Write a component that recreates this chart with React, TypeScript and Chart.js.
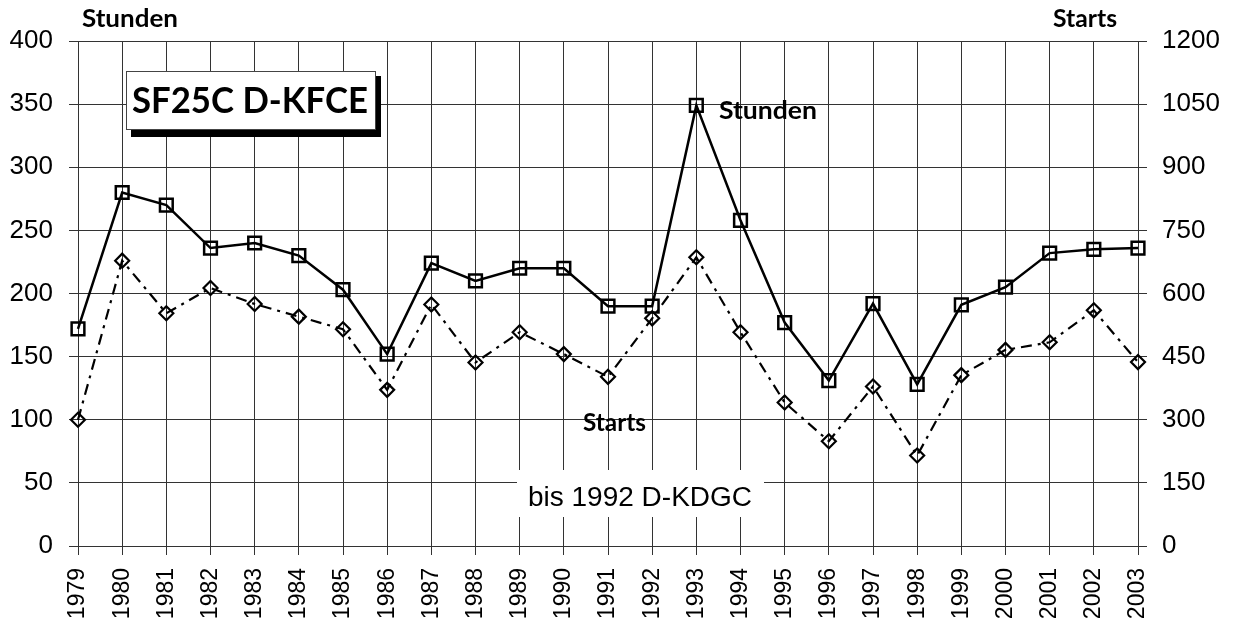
import React, { useEffect, useRef } from 'react';
import { Chart, registerables } from 'chart.js';

Chart.register(...registerables);

const years = ['1979','1980','1981','1982','1983','1984','1985','1986','1987','1988','1989','1990','1991','1992','1993','1994','1995','1996','1997','1998','1999','2000','2001','2002','2003'];
const stunden = [172, 280, 270, 236, 240, 230, 203, 152, 224, 210, 220, 220, 190, 190, 349, 258, 177, 131, 192, 128, 191, 205, 232, 235, 236];
const starts = [300, 678, 553, 613, 575, 545, 515, 371, 574, 436, 508, 456, 402, 541, 686, 508, 341, 249, 379, 215, 406, 466, 484, 560, 437];

const leftTitle = 'Stunden';
const rightTitle = 'Starts';
const chartTitle = 'SF25C D-KFCE';
const note = 'bis 1992 D-KDGC';

const W = 1242;
const H = 625;
const SANS = '"Liberation Sans", Arial, sans-serif';
const BOLD = 'Lato, "Open Sans", sans-serif';

function fitText(ctx: CanvasRenderingContext2D, text: string, x: number, baseline: number, width: number, font: string) {
  ctx.save();
  ctx.font = font;
  ctx.textAlign = 'left';
  ctx.textBaseline = 'alphabetic';
  const m = ctx.measureText(text).width;
  ctx.translate(x, baseline);
  ctx.scale(width / m, 1);
  ctx.fillStyle = '#000';
  ctx.fillText(text, 0, 0);
  ctx.restore();
}

const annotations = {
  id: 'annotations',
  beforeDatasetsDraw(chart: any) {
    const ctx: CanvasRenderingContext2D = chart.ctx;
    ctx.save();
    // note box covering the grid
    ctx.fillStyle = '#fff';
    ctx.fillRect(517, 470, 247, 47);
    fitText(ctx, note, 528, 506, 224, `27px ${SANS}`);
    // title box with shadow
    ctx.fillStyle = '#000';
    ctx.fillRect(131, 76, 250, 61);
    ctx.fillStyle = '#fff';
    ctx.fillRect(126, 71, 250, 59);
    ctx.strokeStyle = '#444';
    ctx.lineWidth = 1;
    ctx.strokeRect(126.5, 71.5, 249, 58);
    fitText(ctx, chartTitle, 132, 113, 236, `bold 36px ${BOLD}`);
    ctx.restore();
  },
  afterDraw(chart: any) {
    const ctx: CanvasRenderingContext2D = chart.ctx;
    fitText(ctx, leftTitle, 82, 27, 96, `bold 24px ${BOLD}`);
    fitText(ctx, rightTitle, 1053, 27, 64, `bold 24px ${BOLD}`);
    fitText(ctx, leftTitle, 719, 119, 98, `bold 24px ${BOLD}`);
    fitText(ctx, rightTitle, 583, 431, 63, `bold 24px ${BOLD}`);
  },
};

export default function App() {
  const ref = useRef<HTMLCanvasElement>(null);

  useEffect(() => {
    document.body.style.margin = '0';
    const canvas = ref.current;
    if (!canvas) return;
    const chart = new Chart(canvas, {
      type: 'line',
      data: {
        labels: years,
        datasets: [
          {
            label: 'Starts',
            data: starts,
            yAxisID: 'y1',
            borderColor: '#000',
            borderWidth: 2.2,
            borderDash: [11, 6, 3, 6],
            pointStyle: 'rectRot',
            pointRadius: 7,
            pointBorderWidth: 2.2,
            pointBorderColor: '#000',
            pointBackgroundColor: 'rgba(0,0,0,0)',
            tension: 0,
            fill: false,
            clip: false as any,
          },
          {
            label: 'Stunden',
            data: stunden,
            yAxisID: 'y',
            borderColor: '#000',
            borderWidth: 2.5,
            pointStyle: 'rect',
            pointRadius: 9,
            pointBorderWidth: 2.5,
            pointBorderColor: '#000',
            pointBackgroundColor: 'rgba(0,0,0,0)',
            tension: 0,
            fill: false,
            clip: false as any,
          },
        ],
      },
      options: {
        responsive: false,
        animation: false,
        devicePixelRatio: 1,
        layout: { padding: { top: 41, left: 0, right: 0, bottom: 0 } },
        plugins: { legend: { display: false }, tooltip: { enabled: false } },
        scales: {
          x: {
            type: 'category',
            offset: false,
            grid: { color: '#333', lineWidth: 1, tickLength: 9, drawTicks: true },
            border: { display: false },
            ticks: {
              autoSkip: false,
              maxRotation: 90,
              minRotation: 90,
              padding: 13,
              color: '#000',
              font: { family: SANS, size: 23 },
            },
            afterFit: (s: any) => { s.height = H - 546; },
          },
          y: {
            position: 'left',
            min: 0,
            max: 400,
            ticks: { stepSize: 50, padding: 16, color: '#000', font: { family: SANS, size: 26 }, callback: (v: any) => String(v) },
            grid: { color: '#333', lineWidth: 1, tickLength: 9 },
            border: { display: false },
            afterFit: (s: any) => { s.width = 78; },
          },
          y1: {
            position: 'right',
            min: 0,
            max: 1200,
            ticks: { stepSize: 150, padding: 15, color: '#000', font: { family: SANS, size: 26 }, callback: (v: any) => String(v) },
            grid: { drawOnChartArea: false, color: '#333', lineWidth: 1, tickLength: 9 },
            border: { display: false },
            afterFit: (s: any) => { s.width = W - 1138; },
          },
        },
      } as any,
      plugins: [annotations],
    });
    return () => chart.destroy();
  }, []);

  return (
    <div style={{ width: W, height: H, background: '#fff' }}>
      <canvas ref={ref} width={W} height={H} style={{ display: 'block' }} />
    </div>
  );
}
